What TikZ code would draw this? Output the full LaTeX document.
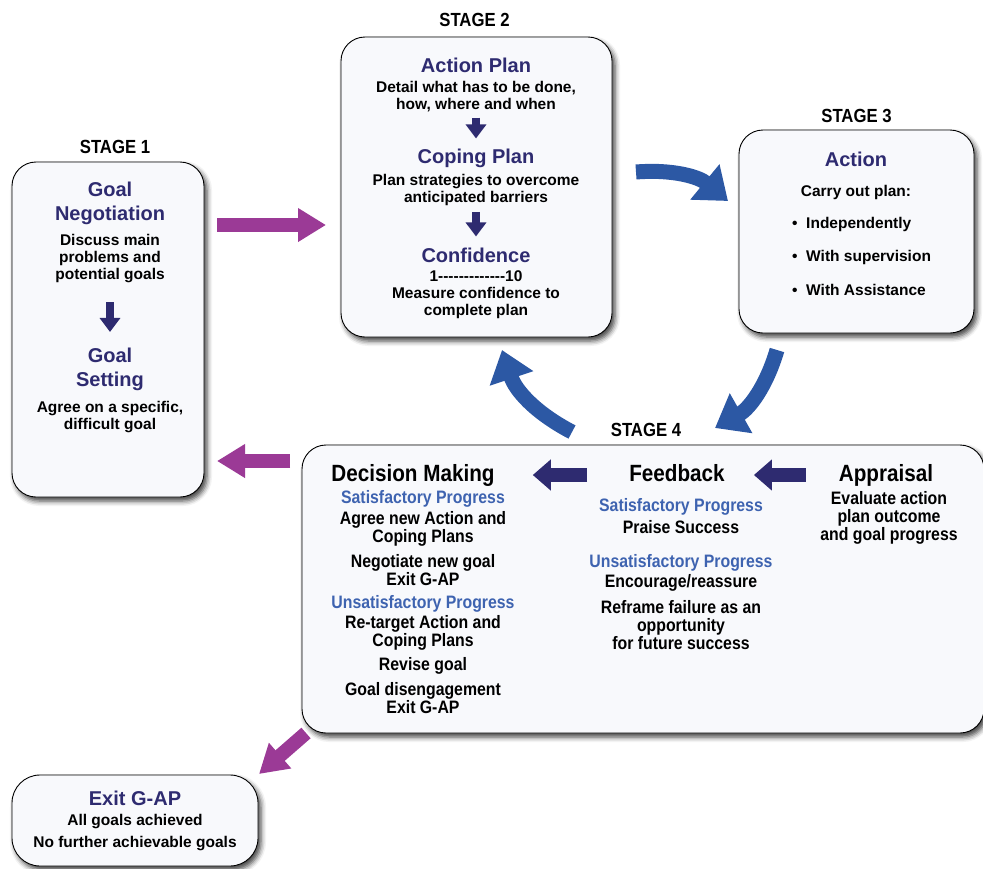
\documentclass[tikz,border=0pt]{standalone}
\usepackage{fontspec}
\setmainfont{Liberation Sans}
\newfontfamily\narrowfont[FakeStretch=0.88]{Liberation Sans}
\usetikzlibrary{arrows.meta,positioning,shadows.blur}

\definecolor{navy}{RGB}{46,43,112}
\definecolor{progblue}{RGB}{62,99,176}
\definecolor{arrblue}{RGB}{44,88,164}
\definecolor{plum}{RGB}{155,58,150}
\definecolor{boxfill}{RGB}{248,249,252}

\begin{document}
\begin{tikzpicture}[x=1pt,y=-1pt,
  box/.style={draw=black,line width=0.9pt,rounded corners=24pt,fill=boxfill,
    blur shadow={shadow xshift=3pt,shadow yshift=-4pt,shadow blur radius=5pt,shadow opacity=75}},
  stg/.style={font=\narrowfont\bfseries\fontsize{19}{22}\selectfont,inner sep=1pt},
  ttl/.style={text=navy,font=\bfseries\fontsize{20}{24}\selectfont,align=center,inner sep=1pt},
  txt/.style={font=\bfseries\fontsize{15.5}{17}\selectfont,align=center,inner sep=1pt},
  hd/.style={font=\narrowfont\bfseries\fontsize{23.5}{26}\selectfont,inner sep=1pt,
    text height=17pt,text depth=5pt},
  ntxt/.style={font=\narrowfont\bfseries\fontsize{18}{18}\selectfont,align=center,inner sep=1pt},
  prog/.style={ntxt,text=progblue},
  dnarr/.style={draw=navy,line width=8pt,-{Triangle[length=14pt,width=20pt]}},
  ltarr/.style={draw=navy,line width=14pt,-{Triangle[length=18pt,width=30pt]}},
  plumarr/.style={draw=plum,line width=14pt,-{Triangle[length=28pt,width=32pt]}},
  bluearr/.style={draw=arrblue,line width=15pt,-{Triangle[length=30pt,width=44pt]}}]
  \useasboundingbox (0,0) rectangle (983,868);

  % boxes
  \node[box,minimum width=192pt,minimum height=335pt] (s1) at (108,329.5) {};
  \node[box,minimum width=271pt,minimum height=300pt] (s2) at (476.5,187) {};
  \node[box,minimum width=235pt,minimum height=203pt] (s3) at (856.5,231.5) {};
  \node[box,minimum width=682pt,minimum height=288pt] (s4) at (643,589) {};
  \node[box,minimum width=246pt,minimum height=91pt,rounded corners=28pt] (ex) at (135,820.5) {};

  \node[stg,above=7pt of s1,xshift=7pt] {STAGE 1};
  \node[stg,above=9pt of s2,xshift=-2pt] {STAGE 2};
  \node[stg,above=6pt of s3] {STAGE 3};
  \node[stg,above=7pt of s4,xshift=3pt] {STAGE 4};

  % stage 1
  \node[ttl] (gn) at (110,203) {Goal\\Negotiation};
  \node[txt] (gnd) at (110,259) {Discuss main\\problems and\\potential goals};
  \node[ttl] (gs) at (110,369.5) {Goal\\Setting};
  \node[txt] (gsd) at (110,417) {Agree on a specific,\\difficult goal};
  \draw[dnarr,shorten <=18pt,shorten >=15pt] (gnd) -- (gs);

  % stage 2
  \node[ttl] (ap) at (476,65) {Action Plan};
  \node[txt] (apd) at (476,97) {Detail what has to be done,\\how, where and when};
  \node[ttl] (cp) at (476,158) {Coping Plan};
  \node[txt] (cpd) at (476,190) {Plan strategies to overcome\\anticipated barriers};
  \node[ttl] (cf) at (476,255) {Confidence};
  \node[txt] (cfd) at (476,294.5) {1-{}-{}-{}-{}-{}-{}-{}-{}-{}-{}-{}-{}-{}10\\Measure confidence to\\complete plan};
  \draw[dnarr,shorten <=4pt,shorten >=9pt] (apd) -- (cp);
  \draw[dnarr,shorten <=5pt,shorten >=10pt] (cpd) -- (cf);

  % stage 3
  \node[ttl] (act) at (856,159) {Action};
  \node[txt] (cop) at (856,192) {Carry out plan:};
  \node[txt,anchor=west] (b1) at (791,224.5) {\textbullet\ \ Independently};
  \node[txt,anchor=west] (b2) at (791,257.5) {\textbullet\ \ With supervision};
  \node[txt,anchor=west] (b3) at (791,290) {\textbullet\ \ With Assistance};

  % stage 4
  \node[hd] (dm) at (413,475) {Decision Making};
  \node[hd] (fb) at (677,475) {Feedback};
  \node[hd] (apr) at (886,475) {Appraisal};
  \draw[ltarr,shorten <=41pt,shorten >=37pt] (fb) -- (dm);
  \draw[ltarr,shorten <=32pt,shorten >=28pt] (apr) -- (fb);

  \node[prog] (sp1) at (423,499) {Satisfactory Progress};
  \node[ntxt] (dm1) at (423,529) {Agree new Action and\\Coping Plans};
  \node[ntxt] (dm2) at (423,570) {Negotiate new goal\\Exit G-AP};
  \node[prog] (up1) at (423,604) {Unsatisfactory Progress};
  \node[ntxt] (dm3) at (423,633) {Re-target Action and\\Coping Plans};
  \node[ntxt] (dm4) at (423,666) {Revise goal};
  \node[ntxt] (dm5) at (423,698) {Goal disengagement\\Exit G-AP};

  \node[prog] (sp2) at (681,507) {Satisfactory Progress};
  \node[ntxt] (fb1) at (681,527) {Praise Success};
  \node[prog] (up2) at (681,563) {Unsatisfactory Progress};
  \node[ntxt] (fb2) at (681,583) {Encourage/reassure};
  \node[ntxt] (fb3) at (681,625) {Reframe failure as an\\opportunity\\for future success};

  \node[ntxt] (ap1) at (889,518) {Evaluate action\\plan outcome\\and goal progress};

  % exit
  \node[ttl] (ext) at (135,798) {Exit G-AP};
  \node[txt,font=\bfseries\fontsize{15.5}{22}\selectfont] (exd) at (135,833) {All goals achieved\\No further achievable goals};

  % arrows between stages
  \coordinate (m1s) at (217,225);  \coordinate (m1e) at (326,225);
  \coordinate (m2s) at (290,461);  \coordinate (m2e) at (217,461);
  \coordinate (m3s) at (306,733);  \coordinate (m3e) at (259,774);
  \coordinate (b1s) at (636,172);  \coordinate (b1e) at (728,201);
  \coordinate (b2s) at (777,350);  \coordinate (b2e) at (715,428);
  \coordinate (b3s) at (572,432);  \coordinate (b3e) at (502,350);

  \draw[plumarr] (m1s) -- (m1e);
  \draw[plumarr] (m2s) -- (m2e);
  \draw[plumarr] (m3s) -- (m3e);
  \draw[bluearr] (b1s) to[bend left=22] (b1e);
  \draw[bluearr] (b2s) to[bend left=22] (b2e);
  \draw[bluearr] (b3s) to[bend left=22] (b3e);
\end{tikzpicture}
\end{document}
